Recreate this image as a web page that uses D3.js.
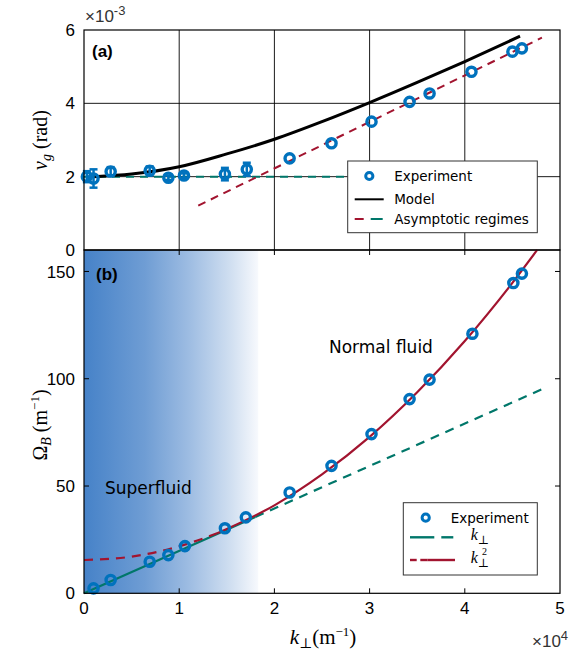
<!DOCTYPE html>
<html><head><meta charset="utf-8">
<script src="https://cdn.jsdelivr.net/npm/d3@7"></script>
<style>body{margin:0;background:#fff}svg{display:block}</style>
</head><body>
<svg id="c" width="576" height="653"></svg>
<script>
// ---- data (k in units of 1e4 m^-1) ----
const topK    = [0.03, 0.10, 0.28, 0.69, 0.886, 1.05, 1.48, 1.71, 2.16, 2.60, 3.02, 3.42, 3.63, 4.07, 4.50, 4.60];
const topV    = [2.00, 1.95, 2.14, 2.16, 1.97, 2.03, 2.07, 2.20, 2.50, 2.91, 3.50, 4.04, 4.27, 4.86, 5.41, 5.50];
const topErr  = [0.15, 0.25, 0.12, 0.12, 0.06, 0.06, 0.17, 0.18, 0.0, 0.0, 0.0, 0.0, 0.0, 0.0, 0.0, 0.0];
const modelK  = [0.10, 0.50, 1.00, 1.50, 2.00, 2.50, 3.00, 3.50, 4.00, 4.58];
const modelV  = [2.00, 2.07, 2.27, 2.62, 3.02, 3.50, 4.02, 4.57, 5.14, 5.83];
const asymRedK = [1.20, 4.81];
const asymRedV = [1.21, 5.79];
const asymTealK = [0.0, 3.4];
const asymTealV = [2.0, 2.0];

const botK    = [0.10, 0.28, 0.69, 0.886, 1.06, 1.48, 1.70, 2.16, 2.60, 3.02, 3.42, 3.63, 4.08, 4.51, 4.60];
const botW    = [2.3, 6.2, 14.7, 17.8, 22.0, 30.3, 35.4, 47.0, 59.4, 74.2, 90.5, 99.6, 121.0, 144.6, 149.0];
const linK    = [0.0, 1.8, 4.81];      // k_perp fit: solid then dashed
const linW    = [0.0, 35.6, 95.1];
const quadK   = [0.0, 0.5, 1.0, 1.4, 2.0, 2.5, 3.0, 3.5, 4.0, 4.5, 4.76];  // k_perp^2 fit
const quadW   = [15.5, 17.1, 21.9, 28.0, 41.0, 55.4, 72.9, 93.7, 117.6, 144.7, 160.0];

const xTicks = [0, 1, 2, 3, 4, 5];
const topYTicks = [0, 2, 4, 6];
const botYTicks = [0, 50, 100, 150];

// ---- layout ----
const svg = d3.select("#c");
const L = 84, R = 560, T1 = 30, B1 = 250, B2 = 593.3;
const x = d3.scaleLinear().domain([0, 5]).range([L, R]);
const y1 = d3.scaleLinear().domain([0, 6]).range([B1, T1]);
const y2 = d3.scaleLinear().domain([0, 160]).range([B2, B1]);

const blue = "#0072bd", red = "#a2142f", teal = "#00776a";
const sans = "'Liberation Sans', Arial, Helvetica, sans-serif";
const dv = "'DejaVu Sans', sans-serif";
const serif = "'Liberation Serif', 'DejaVu Serif', serif";

// gradient
const defs = svg.append("defs");
const grad = defs.append("linearGradient").attr("id", "sf").attr("x1", 0).attr("x2", 1).attr("y1", 0).attr("y2", 0);
[[0, "#4682c8"], [0.35, "#6f9dd4"], [0.6, "#9dbce2"], [0.85, "#d2e0f1"], [1, "#f7f9fd"]]
  .forEach(([o, c]) => grad.append("stop").attr("offset", o).attr("stop-color", c));
svg.append("rect").attr("x", L).attr("y", B1).attr("width", x(1.83) - L).attr("height", B2 - B1).attr("fill", "url(#sf)");

// ---- top panel ----
const topG = svg.append("g");
topG.selectAll(".gx").data([1, 2, 3, 4]).enter().append("line")
  .attr("x1", d => x(d)).attr("x2", d => x(d)).attr("y1", T1).attr("y2", B1)
  .attr("stroke", "#000").attr("stroke-width", 0.9);
topG.selectAll(".gy").data([2, 4]).enter().append("line")
  .attr("x1", L).attr("x2", R).attr("y1", d => y1(d)).attr("y2", d => y1(d))
  .attr("stroke", "#000").attr("stroke-width", 0.9);

const line1 = d3.line().x(d => x(d[0])).y(d => y1(d[1]));
const curve1 = d3.line().x(d => x(d[0])).y(d => y1(d[1])).curve(d3.curveMonotoneX);
topG.append("path").datum(d3.zip(asymTealK, asymTealV)).attr("d", line1)
  .attr("fill", "none").attr("stroke", teal).attr("stroke-width", 2).attr("stroke-dasharray", "8,6");
topG.append("path").datum(d3.zip(asymRedK, asymRedV)).attr("d", line1)
  .attr("fill", "none").attr("stroke", red).attr("stroke-width", 2).attr("stroke-dasharray", "8,6");
topG.append("path").datum(d3.zip(modelK, modelV)).attr("d", curve1)
  .attr("fill", "none").attr("stroke", "#000").attr("stroke-width", 3);

// error bars
const td = d3.range(topK.length).map(i => ({k: topK[i], v: topV[i], e: topErr[i]}));
const eb = topG.selectAll(".eb").data(td.filter(d => d.e > 0)).enter().append("g").attr("stroke", blue).attr("stroke-width", 2.5);
eb.append("line").attr("x1", d => x(d.k)).attr("x2", d => x(d.k)).attr("y1", d => y1(d.v - d.e)).attr("y2", d => y1(d.v + d.e));
eb.append("line").attr("x1", d => x(d.k) - 4).attr("x2", d => x(d.k) + 4).attr("y1", d => y1(d.v - d.e)).attr("y2", d => y1(d.v - d.e));
eb.append("line").attr("x1", d => x(d.k) - 4).attr("x2", d => x(d.k) + 4).attr("y1", d => y1(d.v + d.e)).attr("y2", d => y1(d.v + d.e));
topG.selectAll(".pt").data(td).enter().append("circle")
  .attr("cx", d => x(d.k)).attr("cy", d => y1(d.v)).attr("r", 4.6)
  .attr("fill", "none").attr("stroke", blue).attr("stroke-width", 3.4);

topG.append("rect").attr("x", L).attr("y", T1).attr("width", R - L).attr("height", B1 - T1)
  .attr("fill", "none").attr("stroke", "#000").attr("stroke-width", 1.2);
topG.selectAll(".yt").data(topYTicks).enter().append("text")
  .attr("x", L - 9).attr("y", d => y1(d)).attr("dy", "0.36em").attr("text-anchor", "end")
  .attr("font-family", sans).attr("font-size", 17).text(d => d);
topG.append("text").attr("x", L + 1).attr("y", 22).attr("font-family", sans).attr("font-size", 17).attr("fill", "#333")
  .html('×10<tspan dy="-7" font-size="13">-3</tspan>');
topG.append("text").attr("x", 92).attr("y", 57).attr("font-family", sans).attr("font-weight", "bold").attr("font-size", 17).text("(a)");
topG.append("text").attr("transform", `translate(47,${(T1 + B1) / 2}) rotate(-90)`).attr("text-anchor", "middle")
  .attr("font-family", serif).attr("font-size", 20)
  .html('<tspan font-style="italic">v</tspan><tspan font-style="italic" font-size="14" dy="4">g</tspan><tspan dy="-4"> (rad)</tspan>');

const lg1 = topG.append("g").attr("transform", "translate(347.7,161)");
lg1.append("rect").attr("width", 189.6).attr("height", 71.7).attr("fill", "#fff").attr("stroke", "#333").attr("stroke-width", 1);
lg1.append("circle").attr("cx", 21.6).attr("cy", 15).attr("r", 3.6).attr("fill", "none").attr("stroke", blue).attr("stroke-width", 3);
lg1.append("line").attr("x1", 7).attr("x2", 36).attr("y1", 38.3).attr("y2", 38.3).attr("stroke", "#000").attr("stroke-width", 2);
lg1.append("line").attr("x1", 7).attr("x2", 16).attr("y1", 58).attr("y2", 58).attr("stroke", red).attr("stroke-width", 2);
lg1.append("line").attr("x1", 23).attr("x2", 35).attr("y1", 58).attr("y2", 58).attr("stroke", teal).attr("stroke-width", 2);
[["Experiment", 15], ["Model", 38.3], ["Asymptotic regimes", 58]].forEach(([t, yy]) =>
  lg1.append("text").attr("x", 46.5).attr("y", yy).attr("dy", "0.36em").attr("font-family", dv).attr("font-size", 13.5).text(t));

// ---- bottom panel ----
const botG = svg.append("g");
const line2 = d3.line().x(d => x(d[0])).y(d => y2(d[1]));
const curve2 = d3.line().x(d => x(d[0])).y(d => y2(d[1])).curve(d3.curveMonotoneX);
const quad = d3.zip(quadK, quadW);
botG.append("path").datum(d3.zip(linK.slice(1), linW.slice(1))).attr("d", line2)
  .attr("fill", "none").attr("stroke", teal).attr("stroke-width", 2.2).attr("stroke-dasharray", "9,7");
botG.append("path").datum(d3.zip(linK.slice(0, 2), linW.slice(0, 2))).attr("d", line2)
  .attr("fill", "none").attr("stroke", teal).attr("stroke-width", 2.2);
botG.append("path").datum(quad.filter(d => d[0] <= 1.4)).attr("d", curve2)
  .attr("fill", "none").attr("stroke", red).attr("stroke-width", 2.2).attr("stroke-dasharray", "9,7");
botG.append("path").datum(quad.filter(d => d[0] >= 1.4)).attr("d", curve2)
  .attr("fill", "none").attr("stroke", red).attr("stroke-width", 2.2);

botG.selectAll(".pt").data(d3.zip(botK, botW)).enter().append("circle")
  .attr("cx", d => x(d[0])).attr("cy", d => y2(d[1])).attr("r", 4.6)
  .attr("fill", "none").attr("stroke", blue).attr("stroke-width", 3.4);

botG.append("rect").attr("x", L).attr("y", B1).attr("width", R - L).attr("height", B2 - B1)
  .attr("fill", "none").attr("stroke", "#000").attr("stroke-width", 1.2);
[1, 2, 3, 4].forEach(d => {
  botG.append("line").attr("x1", x(d)).attr("x2", x(d)).attr("y1", B1).attr("y2", B1 + 5).attr("stroke", "#000");
  botG.append("line").attr("x1", x(d)).attr("x2", x(d)).attr("y1", B2).attr("y2", B2 - 5).attr("stroke", "#000");
});
[50, 100, 150].forEach(d => {
  botG.append("line").attr("x1", L).attr("x2", L + 5).attr("y1", y2(d)).attr("y2", y2(d)).attr("stroke", "#000");
  botG.append("line").attr("x1", R).attr("x2", R - 5).attr("y1", y2(d)).attr("y2", y2(d)).attr("stroke", "#000");
});
botG.selectAll(".yt").data(botYTicks).enter().append("text")
  .attr("x", L - 9).attr("y", d => y2(d)).attr("dy", "0.36em").attr("text-anchor", "end")
  .attr("font-family", sans).attr("font-size", 17).text(d => d);
botG.selectAll(".xt").data(xTicks).enter().append("text")
  .attr("x", d => x(d)).attr("y", 614).attr("text-anchor", "middle")
  .attr("font-family", sans).attr("font-size", 17).text(d => d);
botG.append("text").attr("x", 532).attr("y", 647).attr("font-family", sans).attr("font-size", 17).attr("fill", "#333")
  .html('×10<tspan dy="-7" font-size="13">4</tspan>');
botG.append("text").attr("x", 323).attr("y", 644).attr("text-anchor", "middle").attr("font-family", serif).attr("font-size", 21)
  .html('<tspan font-style="italic">k</tspan><tspan font-size="14" dy="4">⊥</tspan><tspan dy="-4">(m</tspan><tspan font-size="13" dy="-8">−1</tspan><tspan dy="8">)</tspan>');
botG.append("text").attr("transform", `translate(47,425) rotate(-90)`).attr("text-anchor", "middle")
  .attr("font-family", serif).attr("font-size", 20)
  .html('Ω<tspan font-style="italic" font-size="14" dy="4">B</tspan><tspan dy="-4"> (m</tspan><tspan font-size="13" dy="-8">−1</tspan><tspan dy="8">)</tspan>');
botG.append("text").attr("x", 96).attr("y", 280).attr("font-family", sans).attr("font-weight", "bold").attr("font-size", 17).text("(b)");
botG.append("text").attr("x", 329).attr("y", 353).attr("font-family", dv).attr("font-size", 17).text("Normal fluid");
botG.append("text").attr("x", 105).attr("y", 494).attr("font-family", dv).attr("font-size", 17).text("Superfluid");

const lg2 = botG.append("g").attr("transform", "translate(403.3,502.7)");
lg2.append("rect").attr("width", 134).attr("height", 72.3).attr("fill", "#fff").attr("stroke", "#333").attr("stroke-width", 1);
lg2.append("circle").attr("cx", 22.4).attr("cy", 15).attr("r", 3.6).attr("fill", "none").attr("stroke", blue).attr("stroke-width", 3);
lg2.append("line").attr("x1", 6.7).attr("x2", 31).attr("y1", 34.6).attr("y2", 34.6).attr("stroke", teal).attr("stroke-width", 2.4);
lg2.append("line").attr("x1", 38).attr("x2", 50).attr("y1", 34.6).attr("y2", 34.6).attr("stroke", teal).attr("stroke-width", 2.4);
lg2.append("line").attr("x1", 6.7).attr("x2", 13.4).attr("y1", 57.3).attr("y2", 57.3).attr("stroke", red).attr("stroke-width", 2.4);
lg2.append("line").attr("x1", 17).attr("x2", 24).attr("y1", 57.3).attr("y2", 57.3).attr("stroke", red).attr("stroke-width", 2.4);
lg2.append("line").attr("x1", 24).attr("x2", 51.7).attr("y1", 57.3).attr("y2", 57.3).attr("stroke", red).attr("stroke-width", 2.4);
lg2.append("text").attr("x", 47.4).attr("y", 15).attr("dy", "0.36em").attr("font-family", dv).attr("font-size", 13.5).text("Experiment");
lg2.append("text").attr("x", 67.4).attr("y", 37).attr("font-family", serif).attr("font-size", 16)
  .html('<tspan font-style="italic">k</tspan><tspan font-size="12" dy="4">⊥</tspan>');
lg2.append("text").attr("x", 67.4).attr("y", 60).attr("font-family", serif).attr("font-size", 16)
  .html('<tspan font-style="italic">k</tspan><tspan font-size="12" dy="4">⊥</tspan><tspan font-size="10" dx="-7" dy="-12">2</tspan>');
</script>
</body></html>
